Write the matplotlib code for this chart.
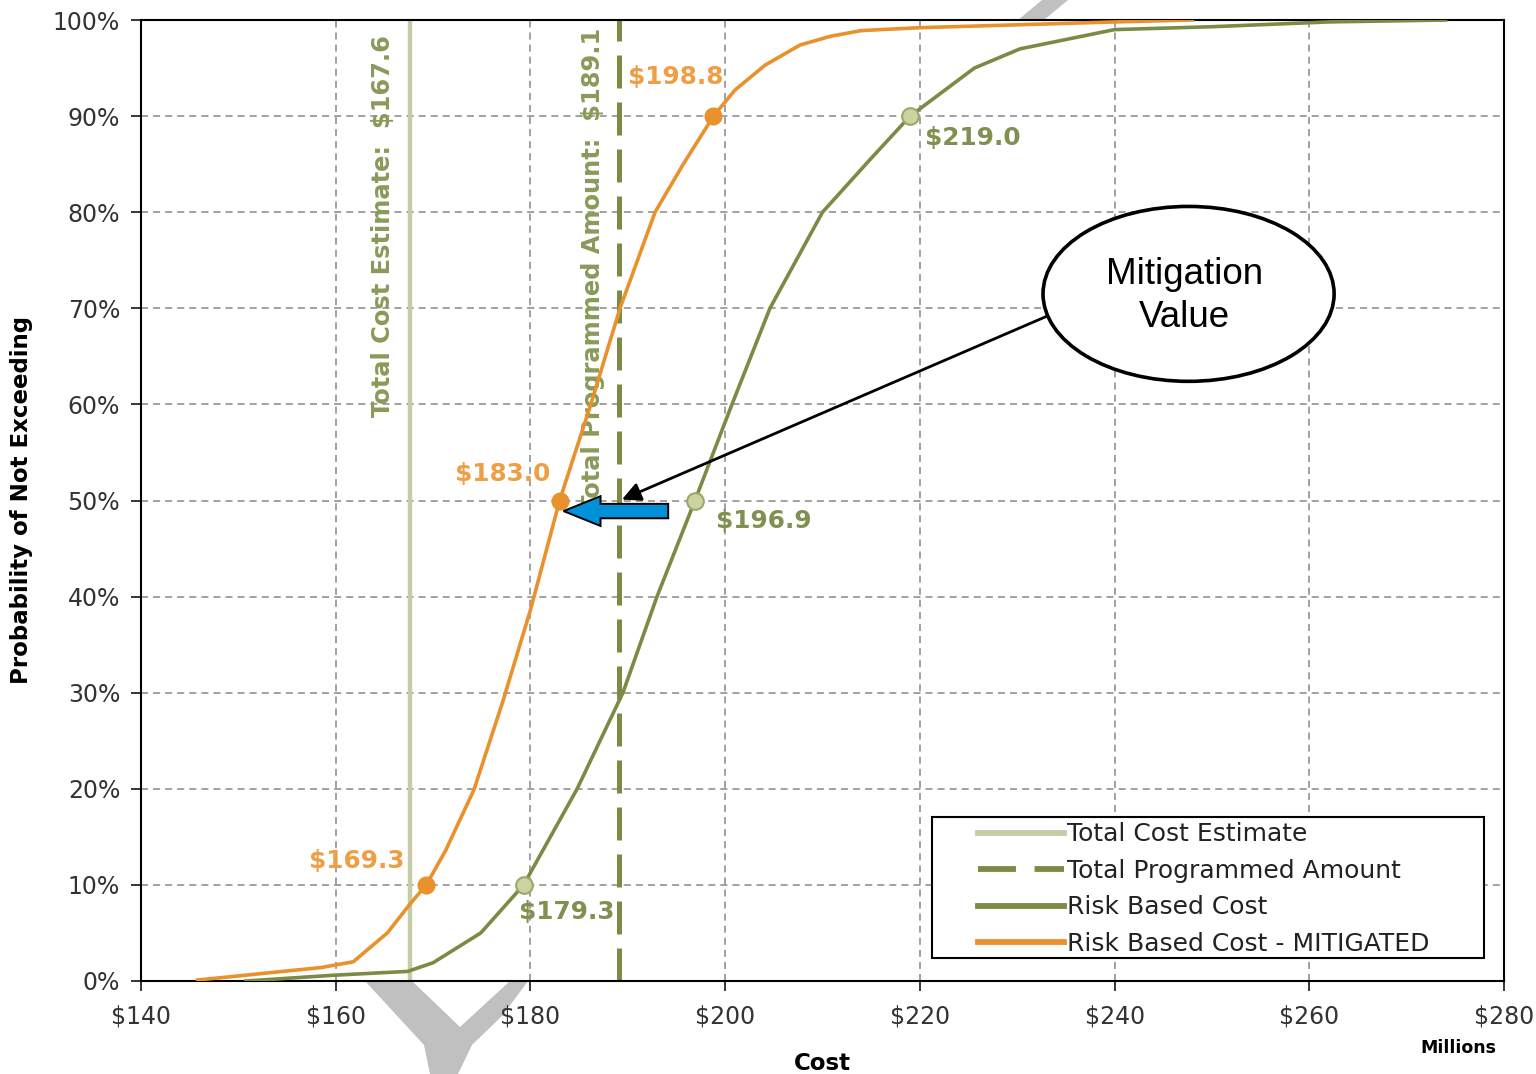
import matplotlib
import matplotlib.pyplot as plt
from matplotlib.lines import Line2D
from matplotlib.patches import Ellipse, FancyArrow, Polygon, Rectangle

matplotlib.use("Agg")

# cumulative cost distributions (cost in $M, probability in %)
mitigated_cost = [145.8, 158.5, 161.8, 165.3, 167.7, 169.3, 171.3, 174.2, 177.2, 180.0,
                  183.0, 186.2, 189.2, 192.8, 195.7, 198.8, 201.0, 204.1, 207.7, 210.8,
                  214.0, 220.0, 230.0, 240.0, 248.0]
mitigated_prob = [0.1, 1.4, 2.0, 5.0, 8.1, 10.0, 13.6, 19.9, 29.2, 38.6,
                  50.0, 60.0, 70.0, 80.0, 85.0, 90.0, 92.7, 95.3, 97.4, 98.3,
                  98.9, 99.2, 99.5, 99.8, 100.0]

risk_cost = [150.8, 159.8, 167.4, 170.0, 174.9, 179.3, 184.8, 189.5, 193.0, 196.9,
             200.7, 204.6, 210.0, 214.9, 219.0, 225.6, 230.3, 240.0, 250.0, 262.0, 274.0]
risk_prob = [0.0, 0.6, 1.0, 1.9, 5.0, 10.0, 20.0, 30.0, 40.0, 50.0,
             60.0, 70.0, 80.0, 85.5, 90.0, 95.0, 97.0, 99.0, 99.3, 99.8, 100.0]

# labelled percentiles
mark_prob = [10, 50, 90]
mitigated_marks = [169.3, 183.0, 198.8]
risk_marks = [179.3, 196.9, 219.0]

total_cost_estimate = 167.6
total_programmed = 189.1

x_ticks = [140, 160, 180, 200, 220, 240, 260, 280]
y_ticks = [0, 10, 20, 30, 40, 50, 60, 70, 80, 90, 100]

ORANGE = "#E9912C"
ORANGE_TXT = "#EE9F45"
GREEN = "#7B8B45"
GREEN_TXT = "#7F9050"
PALE = "#C5CCA6"
LABEL_SIZE = 17.8
VLABEL_SIZE = 17.4

fig = plt.figure(figsize=(15.36, 10.74), dpi=100)
ax = fig.add_axes([141 / 1536, 1 - 981 / 1074, 1363 / 1536, 961 / 1074])
ax.set_facecolor("white")

# faint watermark strokes showing around the plot area
W, H = 1536.0, 1074.0
wm = [
    [(365, 981), (412, 981), (460, 1027), (510, 981), (528, 981), (503, 1015),
     (472, 1045), (458, 1074), (430, 1074), (424, 1045), (365, 981)],
    [(1042, 0), (1068, 0), (1038, 25), (1012, 25)],
]
for pts in wm:
    fig.add_artist(Polygon([(px / W, 1 - py / H) for px, py in pts], closed=True,
                           transform=fig.transFigure, fc="#C0C0C0", ec="none",
                           zorder=-1))

ax.set_xlim(x_ticks[0], x_ticks[-1])
ax.set_ylim(y_ticks[0], y_ticks[-1])
ax.set_xticks(x_ticks)
ax.set_yticks(y_ticks)
ax.set_xticklabels([f"${v}" for v in x_ticks])
ax.set_yticklabels([f"{v}%" for v in y_ticks])
ax.tick_params(axis="x", direction="out", length=7, width=1.1, pad=10,
               labelsize=17, labelcolor="#333333")
ax.tick_params(axis="y", direction="out", length=7, width=1.1, pad=8,
               labelsize=17, labelcolor="#333333")
for s in ax.spines.values():
    s.set_linewidth(1.5)
    s.set_color("black")

ax.set_axisbelow(True)
ax.grid(True, color="#888888", linewidth=1.1, linestyle=(0, (4.6, 3.3)))

# reference lines
ax.axvline(total_cost_estimate, color=PALE, linewidth=3.2, zorder=2)
ax.axvline(total_programmed, color=GREEN, linewidth=3.6,
           linestyle=(0, (6.6, 2.8)), zorder=2)

ax.text(total_cost_estimate - 2.7, 98.4,
        f"Total Cost Estimate:  ${total_cost_estimate:.1f}",
        rotation=90, ha="center", va="top", fontsize=VLABEL_SIZE,
        fontweight="bold", color="#899A5A", zorder=3)
tpa = ax.text(total_programmed - 2.7, 99.2,
              f"Total Programmed Amount:  ${total_programmed:.1f}",
              rotation=90, ha="center", va="top", fontsize=VLABEL_SIZE,
              fontweight="bold", color="#899A5A", zorder=3)
# the programmed-amount label is cut off below the 50% line
clip = Rectangle((x_ticks[0], 50.4), x_ticks[-1] - x_ticks[0], 50,
                 transform=ax.transData)
tpa.set_clip_path(clip)

# curves
ax.plot(risk_cost, risk_prob, color=GREEN, linewidth=2.6, zorder=4)
ax.plot(mitigated_cost, mitigated_prob, color=ORANGE, linewidth=2.6, zorder=4)
ax.plot(mitigated_marks, mark_prob, "o", color=ORANGE, markersize=12,
        markeredgecolor=ORANGE, zorder=5)
ax.plot(risk_marks, mark_prob, "o", color="#CDD29E", markersize=12,
        markeredgecolor="#9AA86A", markeredgewidth=1.5, zorder=5)

orange_offsets = [((-16, 17), "right"), ((-6.5, 19), "right"), ((-27, 28.5), "center")]
green_offsets = [((-3, -19.5), "left"), ((15, -14.5), "left"), ((11, -16), "left")]
for v, p, (off, ha) in zip(mitigated_marks, mark_prob, orange_offsets):
    ax.annotate(f"${v:.1f}", (v, p), xytext=off, textcoords="offset points",
                ha=ha, va="center", fontsize=LABEL_SIZE, fontweight="bold",
                color=ORANGE_TXT, zorder=6)
for v, p, (off, ha) in zip(risk_marks, mark_prob, green_offsets):
    ax.annotate(f"${v:.1f}", (v, p), xytext=off, textcoords="offset points",
                ha=ha, va="center", fontsize=LABEL_SIZE, fontweight="bold",
                color=GREEN_TXT, zorder=6)

# mitigation callout
ax.add_patch(Ellipse((247.6, 71.5), 29.9, 18.2, fc="white", ec="black",
                     linewidth=2.6, zorder=7))
ax.text(247.2, 71.3, "Mitigation\nValue", ha="center", va="center",
        fontsize=26.5, family="Liberation Sans", linespacing=1.3, zorder=8)
ax.annotate("", xy=(total_programmed + 0.3, 50.1), xytext=(233.1, 69.2),
            arrowprops=dict(arrowstyle="-|>", color="black", lw=2,
                            mutation_scale=28, shrinkA=0, shrinkB=0),
            zorder=7)
ax.add_patch(FancyArrow(194.15, 48.9, -(194.15 - 183.4), 0, width=1.5,
                        head_width=3.1, head_length=3.8,
                        length_includes_head=True, fc="#0091D8", ec="black",
                        linewidth=1.4, zorder=7))

# axis titles
ax.set_xlabel("Cost", fontsize=16.5, fontweight="bold", labelpad=17)
ax.set_ylabel("Probability of Not Exceeding", fontsize=16.5, fontweight="bold",
              labelpad=14)
fig.text(1458 / W, 1 - 1048 / H, "Millions", ha="center", va="center",
         fontsize=12.5, fontweight="bold")

# legend with a separate square frame
ax.add_patch(Rectangle((0.580, 0.024), 0.4053, 0.147, transform=ax.transAxes,
                       fc="white", ec="black", linewidth=1.5, zorder=9))
handles = [
    Line2D([], [], color=PALE, linewidth=4.2),
    Line2D([], [], color=GREEN, linewidth=4.2, linestyle=(0, (6.5, 3.2))),
    Line2D([], [], color=GREEN, linewidth=4.2),
    Line2D([], [], color=ORANGE, linewidth=4.2),
]
labels = ["Total Cost Estimate", "Total Programmed Amount", "Risk Based Cost",
          "Risk Based Cost - MITIGATED"]
leg = ax.legend(handles, labels, loc="upper left", bbox_to_anchor=(0.614, 0.165),
                frameon=False, borderpad=0, borderaxespad=0, fontsize=18,
                handlelength=3.45, handletextpad=0.12, labelspacing=0.5)
leg.set_zorder(10)
for t in leg.get_texts():
    t.set_color("#222222")

fig.savefig("out.png", dpi=100)
plt.close(fig)
